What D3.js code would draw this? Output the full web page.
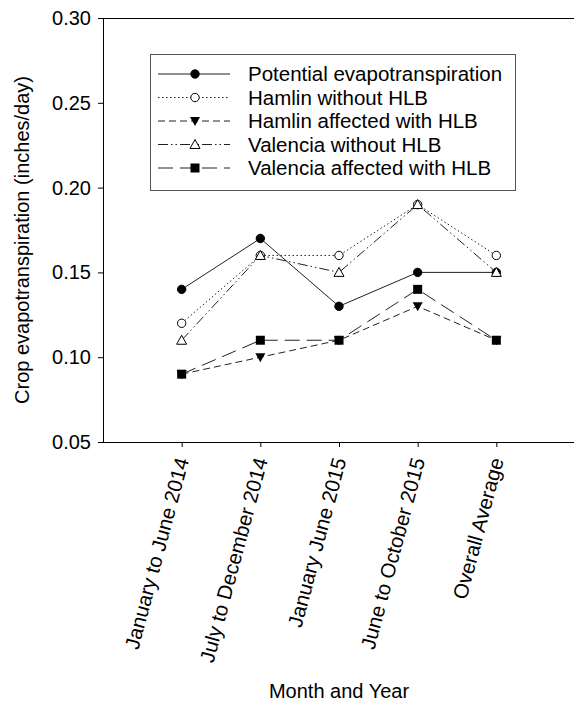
<!DOCTYPE html>
<html>
<head>
<meta charset="utf-8">
<script src="https://cdn.jsdelivr.net/npm/d3@7"></script>
<style>
  body { margin: 0; background: #fff; }
  svg { font-family: "Liberation Sans", Arial, sans-serif; }
</style>
</head>
<body>
<div id="chart"></div>
<script>
// categories along the x axis
var periods = ["January to June 2014", "July to December 2014", "January June 2015", "June to October 2015", "Overall Average"]
var yTicks = [0.05, 0.10, 0.15, 0.20, 0.25, 0.30]

// series values (inches/day)
var potentialET = [0.14, 0.17, 0.13, 0.15, 0.15]
var hamlinHealthy = [0.12, 0.16, 0.16, 0.19, 0.16]
var hamlinHLB = [0.09, 0.10, 0.11, 0.13, 0.11]
var valenciaHealthy = [0.11, 0.16, 0.15, 0.19, 0.15]
var valenciaHLB = [0.09, 0.11, 0.11, 0.14, 0.11]

var seriesNames = ["Potential evapotranspiration", "Hamlin without HLB", "Hamlin affected with HLB", "Valencia without HLB", "Valencia affected with HLB"]

var series = [
  { name: seriesNames[0], values: potentialET, dash: null, marker: "circle", fill: "#000" },
  { name: seriesNames[1], values: hamlinHealthy, dash: "1.5,2.5", marker: "circle", fill: "#fff" },
  { name: seriesNames[2], values: hamlinHLB, dash: "7,4", marker: "triangleDown", fill: "#000" },
  { name: seriesNames[3], values: valenciaHealthy, dash: "10,3,1.5,3,1.5,3", marker: "triangle", fill: "#fff" },
  { name: seriesNames[4], values: valenciaHLB, dash: "15,7", marker: "square", fill: "#000" }
]

var width = 574, height = 702
// plot box edges (top is reserved on window, so use plotTop)
var plotLeft = 103, plotRight = 575, plotTop = 18, plotBottom = 442
var fontSize = "20px"

var svg = d3.select("#chart").append("svg")
  .attr("width", width)
  .attr("height", height)

var x = d3.scaleLinear().domain([-1, periods.length]).range([plotLeft, plotRight])
var y = d3.scaleLinear().domain([0.05, 0.30]).range([plotBottom, plotTop])

// y axis
var yAxis = svg.append("g")
  .attr("transform", "translate(" + plotLeft + ",0)")
  .call(d3.axisLeft(y).tickValues(yTicks).tickFormat(d3.format(".2f")).tickSize(5).tickPadding(7))
yAxis.select(".domain").attr("stroke", "#000").attr("d", "M0.5," + plotTop + "V" + plotBottom)
yAxis.selectAll("text").style("font-size", fontSize).attr("fill", "#000")

// x axis
var xAxis = svg.append("g")
  .attr("transform", "translate(0," + plotBottom + ")")
  .call(d3.axisBottom(x).tickValues(d3.range(periods.length)).tickFormat(function(i) { return periods[i] }).tickSize(5))
xAxis.select(".domain").attr("stroke", "#000").attr("d", "M" + plotLeft + ",0.5H" + plotRight)
xAxis.selectAll("text")
  .style("font-size", "20.5px")
  .attr("fill", "#000")
  .attr("text-anchor", "end")
  .attr("y", 0)
  .attr("dy", 0)
  .attr("transform", "translate(7,18) rotate(-75)")

// top border line
svg.append("line")
  .attr("x1", plotLeft).attr("x2", plotRight)
  .attr("y1", plotTop + 0.5).attr("y2", plotTop + 0.5)
  .attr("stroke", "#000")

// axis titles
svg.append("text")
  .attr("transform", "translate(29,240) rotate(-90)")
  .attr("text-anchor", "middle")
  .style("font-size", fontSize)
  .text("Crop evapotranspiration (inches/day)")

svg.append("text")
  .attr("x", (plotLeft + plotRight) / 2)
  .attr("y", 698)
  .attr("text-anchor", "middle")
  .style("font-size", fontSize)
  .text("Month and Year")

function drawMarker(g, type, fill) {
  if (type === "circle") {
    g.append("circle").attr("r", 4.2).attr("fill", fill).attr("stroke", "#000")
  } else if (type === "square") {
    g.append("rect").attr("x", -4.5).attr("y", -4.5).attr("width", 9).attr("height", 9).attr("fill", fill)
  } else if (type === "triangleDown") {
    g.append("path").attr("d", "M-5,-4L5,-4L0,5Z").attr("fill", fill)
  } else {
    g.append("path").attr("d", "M0,-5L5,4L-5,4Z").attr("fill", fill).attr("stroke", "#000")
  }
}

var line = d3.line()
  .x(function(d, i) { return x(i) })
  .y(function(d) { return y(d) })

series.forEach(function(s) {
  svg.append("path")
    .datum(s.values)
    .attr("d", line)
    .attr("fill", "none")
    .attr("stroke", "#222")
    .attr("stroke-width", 1)
    .attr("stroke-dasharray", s.dash)

  svg.selectAll(null)
    .data(s.values)
    .enter().append("g")
    .attr("transform", function(d, i) { return "translate(" + x(i) + "," + y(d) + ")" })
    .each(function() { drawMarker(d3.select(this), s.marker, s.fill) })
})

// legend
var legend = svg.append("g").attr("transform", "translate(150,54)")
legend.append("rect")
  .attr("x", 0.5).attr("y", 0.5)
  .attr("width", 365).attr("height", 136)
  .attr("fill", "#fff")
  .attr("stroke", "#555")

series.forEach(function(s, i) {
  var row = legend.append("g").attr("transform", "translate(0," + (20 + i * 23.5) + ")")
  row.append("line")
    .attr("x1", 8).attr("x2", 80)
    .attr("stroke", "#222")
    .attr("stroke-dasharray", s.dash)
  var m = row.append("g").attr("transform", "translate(45,0)")
  drawMarker(m, s.marker, s.fill)
  row.append("text")
    .attr("x", 98)
    .attr("dy", "0.35em")
    .style("font-size", "20.5px")
    .text(s.name)
})
</script>
</body>
</html>
